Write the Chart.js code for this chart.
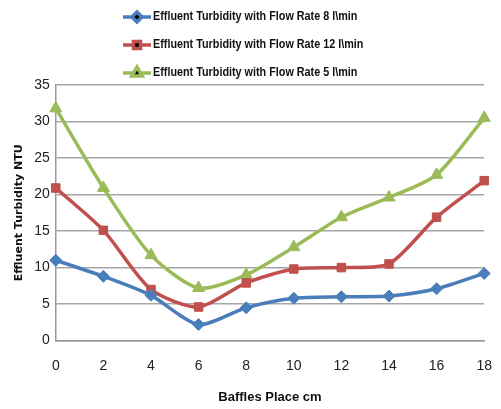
<!DOCTYPE html>
<html>
<head>
<meta charset="utf-8">
<script src="https://cdn.jsdelivr.net/npm/chart.js@4/dist/chart.umd.min.js"></script>
<style>
  html, body { margin: 0; padding: 0; background: #fff; }
  #wrap { width: 501px; height: 409px; }
</style>
</head>
<body>
<div id="wrap"><canvas id="chart" width="501" height="409"></canvas></div>
<script>
// data
var places = ["0", "2", "4", "6", "8", "10", "12", "14", "16", "18"];
var rate8  = [11, 8.8, 6.2, 2.2, 4.5, 5.8, 6.0, 6.1, 7.1, 9.2];
var rate12 = [20.9, 15.1, 7.0, 4.6, 7.9, 9.8, 10.0, 10.5, 16.9, 21.9];
var rate5  = [31.8, 20.9, 11.7, 7.2, 9.0, 12.8, 16.9, 19.6, 22.7, 30.5];
var seriesNames = [
  "Effluent Turbidity with Flow Rate 8 l\\min",
  "Effluent Turbidity with Flow Rate 12 l\\min",
  "Effluent Turbidity with Flow Rate 5 l\\min"
];

var narrow = "'Liberation Sans', sans-serif";

// legend drawn as a vertical list on top (the built-in one only wraps in rows)
var stackLegend = {
  id: 'stackLegend',
  afterDraw: function(chart) {
    var ctx = chart.ctx;
    var x0 = 123, y0 = 17, step = 28;
    chart.data.datasets.forEach(function(ds, i) {
      var y = y0 + i * step;
      ctx.save();
      ctx.strokeStyle = ds.borderColor;
      ctx.lineWidth = 3.5;
      ctx.beginPath();
      ctx.moveTo(x0, y);
      ctx.lineTo(x0 + 28, y);
      ctx.stroke();
      Chart.helpers.drawPoint(ctx, {
        pointStyle: ds.pointStyle,
        radius: ds.pointRadius - 1,
        borderWidth: 1
      }, x0 + 14, y);
      // condensed bold text, squeezed like the original
      ctx.fillStyle = '#111';
      ctx.font = 'bold 12px ' + narrow;
      ctx.textBaseline = 'middle';
      ctx.translate(x0 + 30, y);
      ctx.scale(0.9, 1);
      ctx.fillText(ds.label, 0, 0);
      ctx.restore();
    });
  }
};

new Chart(document.getElementById("chart"), {
  type: 'line',
  data: {
    labels: places,
    datasets: [
      {
        label: seriesNames[0],
        data: rate8,
        borderColor: "#4a7ebb",
        backgroundColor: "#4a7ebb",
        pointStyle: 'rectRot',
        pointRadius: 6
      },
      {
        label: seriesNames[1],
        data: rate12,
        borderColor: "#c0504d",
        backgroundColor: "#c0504d",
        pointStyle: 'rect',
        pointRadius: 6
      },
      {
        label: seriesNames[2],
        data: rate5,
        borderColor: "#9bbb59",
        backgroundColor: "#9bbb59",
        pointStyle: 'triangle',
        pointRadius: 7
      }
    ]
  },
  options: {
    responsive: false,
    animation: false,
    devicePixelRatio: 1,
    layout: { padding: { top: 85, right: 8, left: 9, bottom: 0 } },
    elements: {
      line: { borderWidth: 3.5, tension: 0.25 },
      point: { borderWidth: 1 }
    },
    plugins: {
      legend: { display: false },
      tooltip: { enabled: false }
    },
    scales: {
      x: {
        offset: false,
        grid: { display: false },
        border: { display: true, color: '#999', width: 1.5 },
        ticks: { color: '#222', font: { family: narrow, size: 14 }, padding: 9, maxRotation: 0 },
        title: {
          display: true,
          text: 'Baffles Place cm',
          color: '#111',
          font: { family: narrow, size: 13, weight: 'bold' },
          padding: { top: 6 }
        }
      },
      y: {
        min: 0,
        max: 35,
        ticks: { stepSize: 5, color: '#222', font: { family: narrow, size: 14 }, padding: 6 },
        grid: { color: '#a6a6a6', lineWidth: 1.5, drawTicks: false },
        border: { display: true, color: '#999', width: 1.5 },
        title: {
          display: true,
          text: 'Effluent Turbidity NTU',
          color: '#111',
          font: { family: 'DejaVu Sans', size: 11, weight: 'bold' },
          padding: { bottom: 2 }
        }
      }
    }
  },
  plugins: [stackLegend]
});
</script>
</body>
</html>
